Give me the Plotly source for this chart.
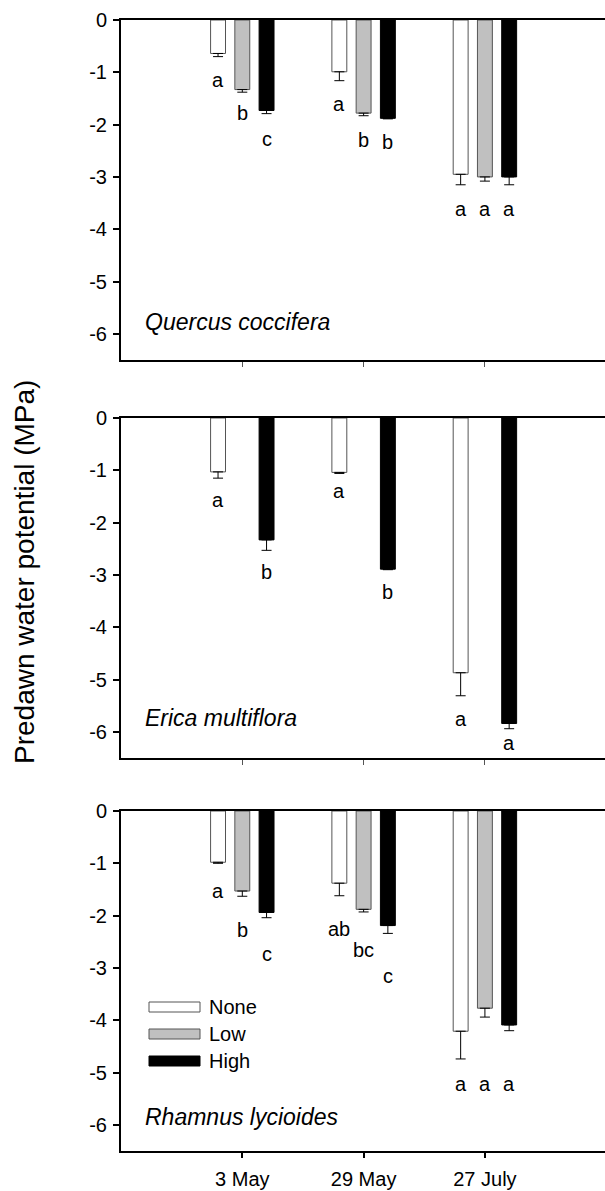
import plotly.graph_objects as go

# ---------------- data ----------------
dates = ["3 May", "29 May", "27 July"]
treatments = ["None", "Low", "High"]
species = ["Quercus coccifera", "Erica multiflora", "Rhamnus lycioides"]

# predawn water potential (MPa), mean and standard error per sampling date
quercus_none = [-0.64, -0.99, -2.95]
quercus_none_se = [0.06, 0.17, 0.20]
quercus_low = [-1.33, -1.78, -3.00]
quercus_low_se = [0.05, 0.05, 0.08]
quercus_high = [-1.73, -1.88, -3.00]
quercus_high_se = [0.06, 0.01, 0.15]

erica_none = [-1.03, -1.04, -4.87]
erica_none_se = [0.12, 0.02, 0.44]
erica_low = [None, None, None]
erica_low_se = [0, 0, 0]
erica_high = [-2.33, -2.89, -5.84]
erica_high_se = [0.20, 0.01, 0.10]

rhamnus_none = [-0.98, -1.38, -4.21]
rhamnus_none_se = [0.02, 0.24, 0.53]
rhamnus_low = [-1.53, -1.88, -3.77]
rhamnus_low_se = [0.10, 0.05, 0.17]
rhamnus_high = [-1.94, -2.19, -4.09]
rhamnus_high_se = [0.10, 0.15, 0.11]

# significance letters
quercus_none_lab = ["a", "a", "a"]
quercus_low_lab = ["b", "b", "a"]
quercus_high_lab = ["c", "b", "a"]
erica_none_lab = ["a", "a", "a"]
erica_low_lab = ["", "", ""]
erica_high_lab = ["b", "b", "a"]
rhamnus_none_lab = ["a", "ab", "a"]
rhamnus_low_lab = ["b", "bc", "a"]
rhamnus_high_lab = ["c", "c", "a"]

y_ticks = [0, -1, -2, -3, -4, -5, -6]
y_tick_text = ["0", "-1", "-2", "-3", "-4", "-5", "-6"]

# ---------------- layout helpers ----------------
W, H = 605, 1191
LEFT = 121
FONT = "Liberation Sans, Arial, sans-serif"

# vertical pixel extent of each panel (top, bottom)
panel_px = [(20, 360), (418, 758), (811, 1151)]
# vertical anchors (MPa) for the significance letters of each bar
letter_y = [
    [[-1.15, -1.61, -3.62], [-1.78, -2.30, -3.62], [-2.28, -2.33, -3.62]],
    [[-1.57, -1.40, -5.76], [None, None, None], [-2.94, -3.32, -6.22]],
    [[-1.52, -2.26, -5.22], [-2.28, -2.66, -5.22], [-2.74, -3.15, -5.22]],
]
species_y_px = [322, 718, 1117]
group_offset = [-0.2, 0.0, 0.2]

fills = ["white", "#c0c0c0", "black"]
edges = ["#555555", "#555555", "black"]


def py(px):
    return 1 - px / H


def px_x(px):
    return (px - LEFT) / (W - LEFT)


panels = [
    ([quercus_none, quercus_low, quercus_high],
     [quercus_none_se, quercus_low_se, quercus_high_se],
     [quercus_none_lab, quercus_low_lab, quercus_high_lab]),
    ([erica_none, erica_low, erica_high],
     [erica_none_se, erica_low_se, erica_high_se],
     [erica_none_lab, erica_low_lab, erica_high_lab]),
    ([rhamnus_none, rhamnus_low, rhamnus_high],
     [rhamnus_none_se, rhamnus_low_se, rhamnus_high_se],
     [rhamnus_none_lab, rhamnus_low_lab, rhamnus_high_lab]),
]

fig = go.Figure()
annotations = []
shapes = []

for p, (means, ses, labs) in enumerate(panels):
    xa = "x" if p == 0 else f"x{p + 1}"
    ya = "y" if p == 0 else f"y{p + 1}"
    for t in range(3):
        fig.add_trace(go.Bar(
            x=dates, y=means[t], name=treatments[t],
            xaxis=xa, yaxis=ya, showlegend=False,
            marker=dict(color=fills[t], line=dict(color=edges[t], width=1)),
            error_y=dict(type="data", symmetric=False,
                         array=[0] * len(dates), arrayminus=ses[t],
                         color="black", thickness=1, width=5),
        ))
        for i in range(len(dates)):
            if labs[t][i] and letter_y[p][t][i] is not None:
                annotations.append(dict(
                    x=i + group_offset[t], y=letter_y[p][t][i], xref=xa, yref=ya,
                    text=labs[t][i], showarrow=False,
                    font=dict(family=FONT, size=20, color="black"),
                    xanchor="center", yanchor="middle"))
    # species name
    annotations.append(dict(
        x=px_x(143), y=py(species_y_px[p]), xref="paper", yref="paper",
        text=f"<i>{species[p]}</i>", showarrow=False,
        font=dict(family=FONT, size=23, color="black"),
        xanchor="left", yanchor="middle"))

    top, bottom = panel_px[p]
    axis_kw = dict(
        domain=[0, 1], range=[-1, 2.99],
        showline=True, linewidth=2, linecolor="black", mirror=True,
        ticks="outside", ticklen=5, tickwidth=2 if p == 2 else 1,
        tickcolor="black" if p == 2 else "#555555",
        showticklabels=(p == 2), showgrid=False, zeroline=False,
        tickfont=dict(family=FONT, size=20, color="black"),
        ticklabelstandoff=4,
        anchor=ya,
    )
    yaxis_kw = dict(
        domain=[py(bottom), py(top)], range=[-6.5, 0],
        showline=True, linewidth=2, linecolor="black",
        ticks="outside", ticklen=6, tickwidth=2, tickcolor="black",
        tickvals=y_ticks, ticktext=y_tick_text,
        tickfont=dict(family=FONT, size=20, color="black"),
        ticklabelstandoff=2,
        showgrid=False, zeroline=False, anchor=xa,
    )
    key = "" if p == 0 else str(p + 1)
    fig.update_layout(**{f"xaxis{key}": axis_kw, f"yaxis{key}": yaxis_kw})

# shared y-axis title
annotations.append(dict(
    x=px_x(24), y=py(572), xref="paper", yref="paper",
    text="Predawn water potential (MPa)", textangle=-90, showarrow=False,
    font=dict(family=FONT, size=28, color="black"),
    xanchor="center", yanchor="middle"))

# legend drawn inside the bottom panel
legend_rows_px = [1007, 1034, 1061]
for t, yc in enumerate(legend_rows_px):
    shapes.append(dict(
        type="rect", xref="paper", yref="paper",
        x0=px_x(149), x1=px_x(200), y0=py(yc + 5), y1=py(yc - 5),
        fillcolor=fills[t], line=dict(color=edges[t], width=1)))
    annotations.append(dict(
        x=px_x(207), y=py(yc), xref="paper", yref="paper",
        text=treatments[t], showarrow=False,
        font=dict(family=FONT, size=20, color="black"),
        xanchor="left", yanchor="middle"))

fig.update_layout(
    width=W, height=H,
    margin=dict(l=LEFT, r=0, t=0, b=0, autoexpand=False),
    paper_bgcolor="white", plot_bgcolor="white",
    barmode="group", bargap=0.4, bargroupgap=0.385,
    annotations=annotations, shapes=shapes,
    showlegend=False,
)

fig.write_html("out.html")
